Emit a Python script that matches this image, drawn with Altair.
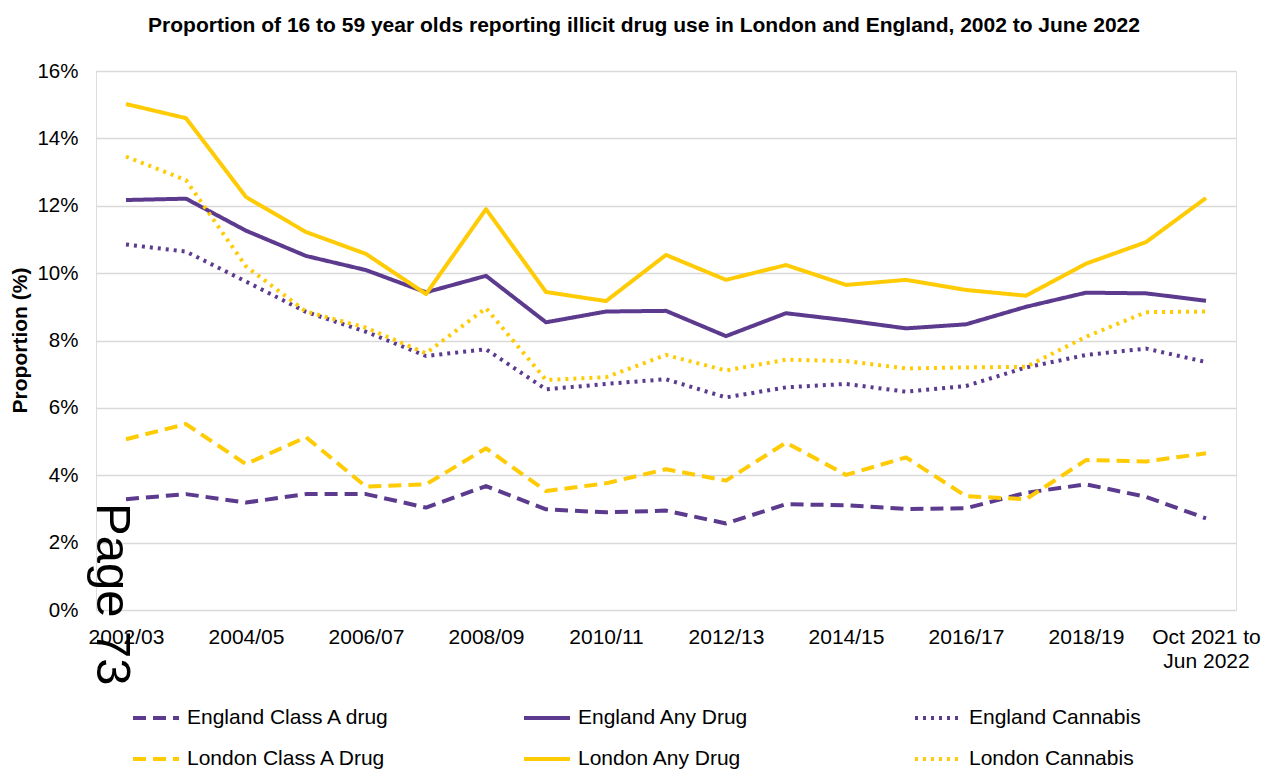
import altair as alt
import pandas as pd

periods = ["2002/03", "2003/04", "2004/05", "2005/06", "2006/07", "2007/08", "2008/09",
           "2009/10", "2010/11", "2011/12", "2012/13", "2013/14", "2014/15", "2015/16",
           "2016/17", "2017/18", "2018/19", "2019/20", "Oct 2021 to Jun 2022"]

england_class_a = [3.29, 3.44, 3.19, 3.44, 3.44, 3.04, 3.68, 2.99, 2.90, 2.95, 2.57, 3.14, 3.11, 3.00, 3.02, 3.48, 3.73, 3.36, 2.72]
england_any = [12.17, 12.21, 11.26, 10.51, 10.09, 9.43, 9.92, 8.54, 8.86, 8.88, 8.13, 8.81, 8.60, 8.36, 8.48, 9.00, 9.42, 9.40, 9.18]
england_cannabis = [10.85, 10.64, 9.75, 8.85, 8.26, 7.54, 7.74, 6.55, 6.71, 6.85, 6.31, 6.61, 6.71, 6.48, 6.65, 7.20, 7.57, 7.76, 7.36]
london_class_a = [5.07, 5.52, 4.33, 5.13, 3.66, 3.73, 4.80, 3.53, 3.76, 4.18, 3.84, 4.97, 4.01, 4.53, 3.38, 3.29, 4.45, 4.41, 4.65]
london_any = [15.02, 14.60, 12.26, 11.22, 10.57, 9.38, 11.90, 9.44, 9.17, 10.54, 9.80, 10.24, 9.65, 9.80, 9.50, 9.33, 10.28, 10.92, 12.23]
london_cannabis = [13.46, 12.76, 10.20, 8.86, 8.38, 7.62, 8.96, 6.83, 6.91, 7.57, 7.11, 7.43, 7.39, 7.17, 7.20, 7.22, 8.11, 8.84, 8.86]

series_names = ["England Class A drug", "England Any Drug", "England Cannabis",
                "London Class A Drug", "London Any Drug", "London Cannabis"]
series_values = [england_class_a, england_any, england_cannabis,
                 london_class_a, london_any, london_cannabis]

PURPLE = "#5C3B8F"
YELLOW = "#FFCB05"
series_colors = [PURPLE, PURPLE, PURPLE, YELLOW, YELLOW, YELLOW]
DASH = [13, 7]
SOLID = [1, 0]
DOT = [3, 5]
series_dashes = [DASH, SOLID, DOT, DASH, SOLID, DOT]

x_tick_labels = periods[::2]

rows = []
for name, vals in zip(series_names, series_values):
    for p, v in zip(periods, vals):
        rows.append({"series": name, "period": p, "value": v})
df = pd.DataFrame(rows)

FONT = "Liberation Sans"


def make_legend():
    return alt.Legend(title=None, orient="none", legendX=35, legendY=622,
                      direction="horizontal", columns=3, gridAlign="all",
                      columnPadding=125, rowPadding=6, padding=0,
                      symbolType="stroke", symbolSize=2116, symbolStrokeWidth=4,
                      labelFontSize=21, labelFont=FONT, labelColor="#000000",
                      labelOffset=6, labelLimit=400)


lines = alt.Chart(df).mark_line(strokeWidth=4, strokeJoin="round").encode(
    x=alt.X("period:N", sort=periods,
            scale=alt.Scale(type="point", domain=periods, padding=0.5),
            axis=alt.Axis(title=None, values=x_tick_labels, labelAngle=0,
                          labelFontSize=21, labelFont=FONT, labelColor="#000000",
                          labelPadding=16, labelLineHeight=24, ticks=False, tickSize=0,
                          domain=False, grid=False, labelOverlap=False,
                          labelBaseline="top",
                          labelExpr="datum.value == 'Oct 2021 to Jun 2022' ? ['Oct 2021 to', 'Jun 2022'] : datum.value")),
    y=alt.Y("value:Q",
            scale=alt.Scale(domain=[0, 16], nice=False, zero=True),
            axis=alt.Axis(title="Proportion (%)", values=list(range(0, 17, 2)),
                          labelExpr="datum.value + '%'", labelFontSize=20.5, labelFont=FONT,
                          labelColor="#000000", labelPadding=18, ticks=False, tickSize=0,
                          domain=False, grid=True, gridColor="#D9D9D9", gridWidth=1.5,
                          titleFont=FONT, titleFontSize=21, titleFontWeight="bold",
                          titleColor="#000000", titleAngle=-90, titleX=-76, titleY=269,
                          titleAlign="center", titleBaseline="middle")),
    color=alt.Color("series:N",
                    scale=alt.Scale(domain=series_names, range=series_colors),
                    legend=make_legend()),
    strokeDash=alt.StrokeDash("series:N",
                              scale=alt.Scale(domain=series_names, range=series_dashes),
                              legend=make_legend()),
)

page_label = alt.Chart(pd.DataFrame({"t": ["Page 73"]})).mark_text(
    angle=90, align="left", baseline="alphabetic", fontSize=49, font=FONT, color="#000000"
).encode(text="t:N", x=alt.value(1), y=alt.value(432))

chart = alt.layer(lines, page_label).properties(
    width=1140, height=539,
    autosize=alt.AutoSizeParams(type="none"),
    padding={"left": 88, "top": 63, "right": 25, "bottom": 164},
    title=alt.TitleParams(
        "Proportion of 16 to 59 year olds reporting illicit drug use in London and England, 2002 to June 2022",
        font=FONT, fontSize=21, fontWeight="bold", color="#000000",
        anchor="middle", dx=-22, offset=25),
).configure_view(stroke=None).configure(background="#FFFFFF")

chart.save("out.html", embed_options={"renderer": "svg", "actions": False})
